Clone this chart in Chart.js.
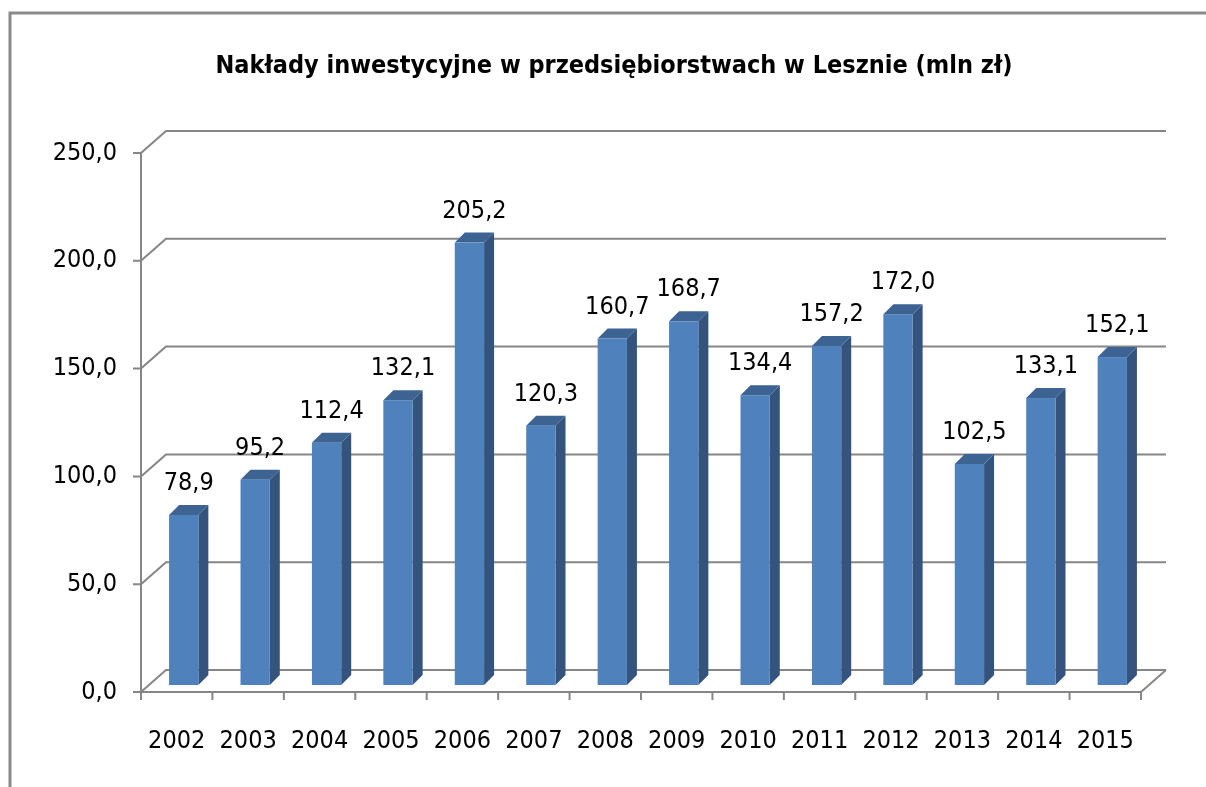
<!DOCTYPE html>
<html>
<head>
<meta charset="utf-8">
<script src="https://cdn.jsdelivr.net/npm/chart.js@4.4.0/dist/chart.umd.min.js"></script>
<style>
  html, body { margin: 0; padding: 0; background: #fff; }
  canvas { display: block; }
</style>
</head>
<body>
<canvas id="chart" width="1206" height="787"></canvas>
<script>
const categories = ['2002', '2003', '2004', '2005', '2006', '2007', '2008', '2009', '2010', '2011', '2012', '2013', '2014', '2015'];
const values = [78.9, 95.2, 112.4, 132.1, 205.2, 120.3, 160.7, 168.7, 134.4, 157.2, 172.0, 102.5, 133.1, 152.1];
const yTicks = [0, 50, 100, 150, 200, 250];
const title = 'Nakłady inwestycyjne w przedsiębiorstwach w Lesznie (mln zł)';

const FONT = "'Liberation Sans Narrow', 'DejaVu Sans Condensed', 'Arial Narrow', sans-serif";
const gridColor = '#868686';

// 3D look: back wall offset, bar offset inside the floor, bar depth
const WALL = { dx: 25, dy: -22 };
const BAR = { dx: 7, dy: -7, depth: 10 };

const fmt = v => v.toFixed(1).replace('.', ',');

const frame3d = {
    id: 'frame3d',
    beforeDraw(chart) {
        const ctx = chart.ctx;
        ctx.save();
        ctx.strokeStyle = '#8a8a8a';
        ctx.lineWidth = 3;
        ctx.beginPath();
        ctx.moveTo(10, chart.height);
        ctx.lineTo(10, 13);
        ctx.lineTo(chart.width, 13);
        ctx.stroke();
        ctx.restore();
    },
    beforeDatasetsDraw(chart) {
        const { ctx, chartArea } = chart;
        const ys = chart.scales.y, xs = chart.scales.x;
        const left = chartArea.left, right = chartArea.right;
        ctx.save();
        ctx.strokeStyle = gridColor;
        ctx.lineWidth = 2;
        yTicks.forEach(v => {
            const y = ys.getPixelForValue(v);
            ctx.beginPath();
            ctx.moveTo(left - 8, y);
            ctx.lineTo(left, y);
            ctx.lineTo(left + WALL.dx, y + WALL.dy);
            ctx.lineTo(right + WALL.dx, y + WALL.dy);
            ctx.stroke();
        });
        const y0 = ys.getPixelForValue(0);
        const yTop = ys.getPixelForValue(yTicks[yTicks.length - 1]);
        ctx.beginPath();
        ctx.moveTo(left, yTop);
        ctx.lineTo(left, y0);
        ctx.lineTo(right, y0);
        ctx.lineTo(right + WALL.dx, y0 + WALL.dy);
        ctx.stroke();
        for (let i = 0; i <= categories.length; i++) {
            const x = xs.getPixelForValue(i - 0.5);
            ctx.beginPath();
            ctx.moveTo(x, y0);
            ctx.lineTo(x, y0 + 8);
            ctx.stroke();
        }
        ctx.restore();
    },
    afterDatasetsDraw(chart) {
        const ctx = chart.ctx;
        const meta = chart.getDatasetMeta(0);
        ctx.save();
        meta.data.forEach((bar, i) => {
            const l = bar.x - bar.width / 2 + BAR.dx;
            const r = bar.x + bar.width / 2 + BAR.dx;
            const t = bar.y + BAR.dy;
            const b = bar.base + BAR.dy;
            const d = BAR.depth;
            // side
            ctx.fillStyle = '#34547e';
            ctx.beginPath();
            ctx.moveTo(r, t); ctx.lineTo(r + d, t - d); ctx.lineTo(r + d, b - d); ctx.lineTo(r, b);
            ctx.closePath(); ctx.fill();
            // top
            ctx.fillStyle = '#3d6393';
            ctx.beginPath();
            ctx.moveTo(l, t); ctx.lineTo(r, t); ctx.lineTo(r + d, t - d); ctx.lineTo(l + d, t - d);
            ctx.closePath(); ctx.fill();
            // front
            ctx.fillStyle = '#4f81bd';
            ctx.fillRect(l, t, r - l, b - t);
            // label
            ctx.fillStyle = '#000';
            ctx.font = '25px ' + FONT;
            ctx.textAlign = 'center';
            ctx.textBaseline = 'bottom';
            ctx.fillText(fmt(values[i]), (l + r + d) / 2, t - d - 9);
        });
        ctx.restore();
    }
};

new Chart(document.getElementById('chart'), {
    type: 'bar',
    data: {
        labels: categories,
        datasets: [{
            data: values,
            backgroundColor: 'rgba(0,0,0,0)',
            categoryPercentage: 1,
            barPercentage: 0.41
        }]
    },
    options: {
        responsive: false,
        animation: false,
        layout: { padding: { left: 22, right: 0, top: 0, bottom: 0 } },
        plugins: {
            legend: { display: false },
            tooltip: { enabled: false },
            title: {
                display: true,
                text: title,
                color: '#000',
                font: { family: FONT, size: 25, weight: 'bold' },
                padding: { top: 51, bottom: 72 }
            }
        },
        scales: {
            x: {
                grid: { display: false, drawTicks: false },
                border: { display: false },
                afterFit: s => { s.height = 95; },
                ticks: { color: '#000', font: { family: FONT, size: 25 }, padding: 34 }
            },
            y: {
                min: 0,
                max: 250,
                grid: { display: false, drawTicks: false },
                border: { display: false },
                afterFit: s => { s.width = 119; },
                afterBuildTicks: s => { s.ticks = yTicks.map(v => ({ value: v })); },
                ticks: { color: '#000', font: { family: FONT, size: 25 }, padding: 24, callback: v => fmt(v) }
            },
            yRight: {
                position: 'right',
                grid: { display: false, drawTicks: false },
                border: { display: false },
                ticks: { display: false },
                afterFit: s => { s.width = 65; }
            }
        }
    },
    plugins: [frame3d]
});
</script>
</body>
</html>
